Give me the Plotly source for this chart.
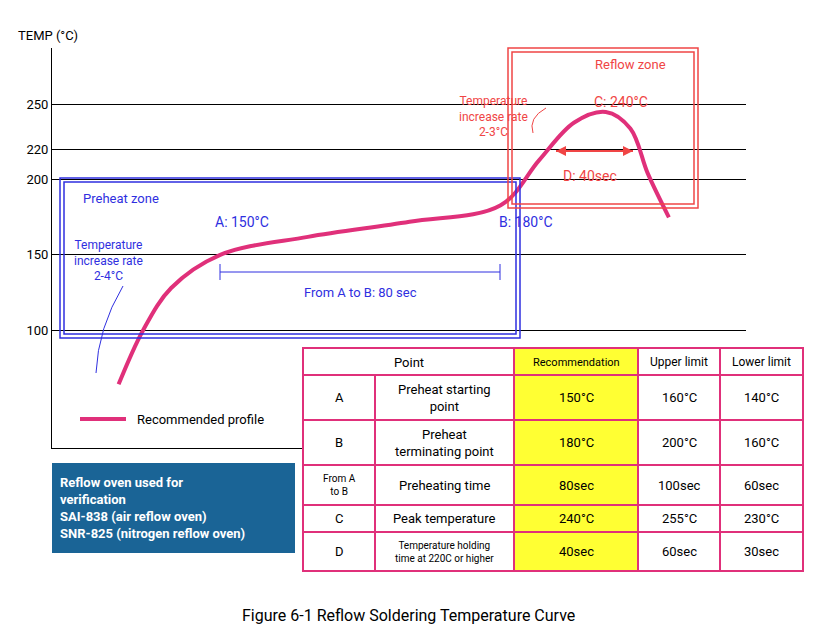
import plotly.graph_objects as go

W, H = 823, 639

# reflow profile (time s, temp C)
t_vals = [19, 26, 34, 48, 73, 102, 128, 139, 149, 158, 165, 170, 176]
temp_vals = [64, 100, 128, 150, 162, 172, 183, 213, 238, 245, 234, 204, 175]
y_ticks = [100, 150, 200, 220, 250]

# table
points = ['A', 'B', 'From A<br>to B', 'C', 'D']
descs = ['Preheat starting<br>point', 'Preheat<br>terminating point', 'Preheating time',
         'Peak temperature', 'Temperature holding<br>time at 220C or higher']
recs = ['150°C', '180°C', '80sec', '240°C', '40sec']
uppers = ['160°C', '200°C', '100sec', '255°C', '60sec']
lowers = ['140°C', '160°C', '60sec', '230°C', '30sec']

PINK = '#e0307a'
BLUE = '#2f2fe0'
RED = '#f04545'

def px(x):
    return x / W

def py(y):
    return 1 - y / H

fig = go.Figure()
fig.add_trace(go.Scatter(x=t_vals, y=temp_vals, mode='lines',
                         line=dict(color=PINK, width=4, shape='spline'),
                         hoverinfo='skip'))

shapes = []
ann = []

def rect(x0, y0, x1, y1, color, width=1, fill=None, layer='above'):
    shapes.append(dict(type='rect', xref='paper', yref='paper', x0=px(x0), x1=px(x1),
                       y0=py(y1), y1=py(y0), line=dict(color=color, width=width),
                       fillcolor=fill, layer=layer))

def line(x0, y0, x1, y1, color, width=1):
    shapes.append(dict(type='line', xref='paper', yref='paper', x0=px(x0), x1=px(x1),
                       y0=py(y0), y1=py(y1), line=dict(color=color, width=width)))

def text(x, y, s, color='black', size=13, anchor='left', **kw):
    ann.append(dict(xref='paper', yref='paper', x=px(x), y=py(y), text=s, showarrow=False,
                    xanchor=anchor, yanchor='middle', font=dict(color=color, size=size), **kw))

# zones (double outlines)
rect(52, 170, 512, 330, BLUE, 1.5)
rect(56, 174, 508, 326, BLUE, 1.5)
rect(500, 40, 690, 200, RED, 1.5)
rect(504, 44, 686, 196, RED, 1.5)

text(8, 28, 'TEMP (°C)', size=13)
text(73, 190, 'Preheat zone', BLUE)
text(205, 214, 'A: 150°C', BLUE, 14)
text(489, 214, 'B: 180°C', BLUE, 14)
text(100, 253, 'Temperature<br>increase rate<br>2-4°C', BLUE, 12, 'center')
text(352, 284, 'From A to B: 80 sec', BLUE, 13, 'center')
line(212, 264, 492, 264, BLUE)
line(212, 256, 212, 272, BLUE)
line(492, 256, 492, 272, BLUE)
shapes.append(dict(type='path', xref='paper', yref='paper',
                   path=f'M {px(115)},{py(278)} Q {px(90)},{py(320)} {px(88)},{py(365)}',
                   line=dict(color=BLUE, width=1)))
text(585, 57, 'Reflow zone', RED)
text(486, 108, 'Temperature<br>increase rate<br>2-3°C', RED, 12, 'center')
text(613, 94, 'C: 240°C', RED, 14, 'center')
text(582, 168, 'D: 40sec', RED, 14, 'center')
line(548, 143, 625, 143, RED, 2)
shapes.append(dict(type='path', xref='paper', yref='paper',
                   path=f'M {px(538)},{py(100)} Q {px(520)},{py(110)} {px(525)},{py(125)}',
                   line=dict(color=RED, width=1)))
ann.append(dict(xref='paper', yref='paper', x=px(625), y=py(143), ax=-25, ay=0,
                text='', showarrow=True, arrowhead=2, arrowcolor=RED, arrowwidth=2))
ann.append(dict(xref='paper', yref='paper', x=px(548), y=py(143), ax=25, ay=0,
                text='', showarrow=True, arrowhead=2, arrowcolor=RED, arrowwidth=2))

# legend line
line(72, 411, 118, 411, PINK, 4)
text(127, 411, 'Recommended profile', size=13)

# verification box
rect(44, 455, 287, 545, '#1a6496', 0, '#1a6496')
text(50, 500, '<b>Reflow oven used for<br>verification<br>SAI-838 (air reflow oven)<br>SNR-825 (nitrogen reflow oven)</b>',
     'white', 13, align='left')

# table
cols = [295, 367, 506, 630, 712, 795]
rows = [340, 367, 412, 457, 497, 524, 563]
rect(295, 340, 795, 563, 'white', 0, 'white')
rect(506, 340, 630, 563, PINK, 0, '#ffff33')
for r in rows[1:-1]:
    line(295, r, 795, r, PINK, 2)
for i, c in enumerate(cols[1:-1]):
    line(c, rows[1] if i == 0 else rows[0], c, rows[-1], PINK, 2)
rect(295, 340, 795, 563, PINK, 2)
cx = [(cols[i] + cols[i + 1]) / 2 for i in range(5)]
text((295 + 506) / 2, 354, 'Point', size=13, anchor='center')
text(cx[2], 354, 'Recommendation', size=11, anchor='center')
text(cx[3], 354, 'Upper limit', size=12, anchor='center')
text(cx[4], 354, 'Lower limit', size=12, anchor='center')
for i in range(5):
    ym = (rows[i + 1] + rows[i + 2]) / 2
    text(cx[0], ym, points[i], size=10 if i == 2 else 13, anchor='center')
    text(cx[1], ym, descs[i], size=10 if i == 4 else 13, anchor='center')
    text(cx[2], ym, recs[i], size=13, anchor='center')
    text(cx[3], ym, uppers[i], size=13, anchor='center')
    text(cx[4], ym, lowers[i], size=13, anchor='center')

text(400, 607, 'Figure 6-1 Reflow Soldering Temperature Curve', size=16, anchor='center')

fig.update_layout(
    width=W, height=H, margin=dict(l=0, r=0, t=0, b=0), showlegend=False,
    plot_bgcolor='white', paper_bgcolor='white',
    font=dict(family='Roboto, Arial, sans-serif', color='black'),
    shapes=shapes, annotations=ann,
    xaxis=dict(domain=[px(44), px(738)], range=[0, 198], showgrid=False, showticklabels=False,
               ticks='', zeroline=False, showline=True, linecolor='black', linewidth=1,
               automargin=False),
    yaxis=dict(domain=[py(440), py(40)], range=[21.7, 287.5], tickvals=y_ticks,
               showgrid=True, gridcolor='black', gridwidth=1, zeroline=False,
               showline=True, linecolor='black', linewidth=1, ticks='',
               tickfont=dict(size=13), automargin=False),
)
fig.write_html("out.html")
